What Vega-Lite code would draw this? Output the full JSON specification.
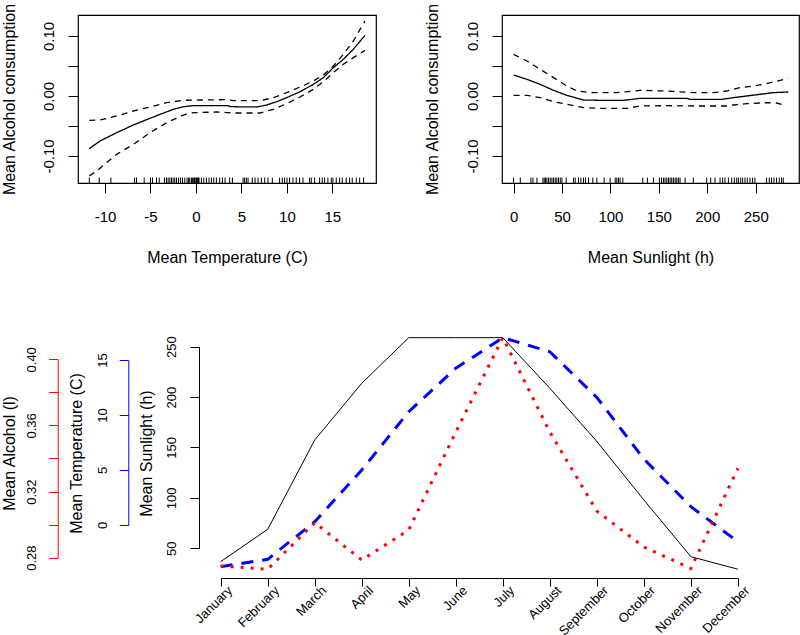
{
  "$schema": "https://vega.github.io/schema/vega-lite/v6.json",
  "background": "white",
  "padding": {"left": 1, "top": 2, "right": 0, "bottom": 20},
  "config": {
    "font": "Liberation Sans",
    "view": {"stroke": null},
    "axis": {"grid": false, "domainColor": "black", "tickColor": "black", "labelColor": "black", "titleColor": "black", "titleFontWeight": "normal", "labelFlush": false, "labelOverlap": false, "labelBound": false, "tickWidth": 1, "domainWidth": 1}
  },
  "datasets": {
    "trug": [{"t":-11.73},{"t":-10.63},{"t":-9.35},{"t":-6.75},{"t":-6.53},{"t":-5.69},{"t":-5.0},{"t":-4.78},{"t":-4.34},{"t":-4.04},{"t":-3.46},{"t":-3.24},{"t":-3.06},{"t":-2.87},{"t":-2.69},{"t":-2.51},{"t":-2.33},{"t":-2.14},{"t":-1.92},{"t":-1.7},{"t":-1.48},{"t":-1.23},{"t":-0.97},{"t":-0.8},{"t":-0.68},{"t":-0.5},{"t":-0.39},{"t":-0.24},{"t":-0.15},{"t":-0.09},{"t":0.05},{"t":0.12},{"t":0.2},{"t":0.27},{"t":0.34},{"t":0.6},{"t":0.86},{"t":1.15},{"t":1.44},{"t":1.7},{"t":1.96},{"t":2.25},{"t":2.61},{"t":2.91},{"t":3.2},{"t":3.71},{"t":4.01},{"t":5.18},{"t":5.36},{"t":5.54},{"t":5.73},{"t":6.2},{"t":6.5},{"t":6.83},{"t":7.19},{"t":7.56},{"t":7.92},{"t":8.4},{"t":9.2},{"t":9.5},{"t":9.75},{"t":10.01},{"t":10.3},{"t":10.67},{"t":11.03},{"t":11.4},{"t":11.77},{"t":12.5},{"t":12.68},{"t":13.05},{"t":13.6},{"t":13.89},{"t":14.15},{"t":14.51},{"t":14.88},{"t":15.06},{"t":15.43},{"t":15.8},{"t":16.09},{"t":16.53},{"t":16.9},{"t":17.19},{"t":17.63},{"t":18.0},{"t":18.44}],
    "tfit": [
      {"t":-11.73,"v":-0.0878,"band":"fit"},{"t":-10.55,"v":-0.075,"band":"fit"},{"t":-8.72,"v":-0.0611,"band":"fit"},{"t":-6.89,"v":-0.0483,"band":"fit"},{"t":-5.05,"v":-0.0372,"band":"fit"},{"t":-3.95,"v":-0.0306,"band":"fit"},{"t":-2.49,"v":-0.0222,"band":"fit"},{"t":-1.39,"v":-0.0178,"band":"fit"},{"t":-0.29,"v":-0.0161,"band":"fit"},{"t":1.18,"v":-0.0161,"band":"fit"},{"t":3.56,"v":-0.0161,"band":"fit"},{"t":3.75,"v":-0.0178,"band":"fit"},{"t":6.68,"v":-0.0183,"band":"fit"},{"t":7.78,"v":-0.015,"band":"fit"},{"t":8.88,"v":-0.0094,"band":"fit"},{"t":9.98,"v":-0.0028,"band":"fit"},{"t":11.45,"v":0.0072,"band":"fit"},{"t":12.91,"v":0.0194,"band":"fit"},{"t":14.01,"v":0.0306,"band":"fit"},{"t":15.11,"v":0.0472,"band":"fit"},{"t":16.21,"v":0.0611,"band":"fit"},{"t":17.31,"v":0.0778,"band":"fit"},{"t":18.59,"v":0.1011,"band":"fit"},
      {"t":-11.73,"v":-0.0406,"band":"hi"},{"t":-10.55,"v":-0.04,"band":"hi"},{"t":-8.72,"v":-0.0333,"band":"hi"},{"t":-6.89,"v":-0.025,"band":"hi"},{"t":-5.05,"v":-0.0183,"band":"hi"},{"t":-3.22,"v":-0.0111,"band":"hi"},{"t":-1.39,"v":-0.0072,"band":"hi"},{"t":0.45,"v":-0.0067,"band":"hi"},{"t":3.38,"v":-0.0061,"band":"hi"},{"t":4.11,"v":-0.0078,"band":"hi"},{"t":7.05,"v":-0.0078,"band":"hi"},{"t":8.51,"v":-0.0028,"band":"hi"},{"t":9.98,"v":0.0056,"band":"hi"},{"t":11.45,"v":0.015,"band":"hi"},{"t":12.91,"v":0.025,"band":"hi"},{"t":14.01,"v":0.035,"band":"hi"},{"t":15.11,"v":0.05,"band":"hi"},{"t":16.21,"v":0.0694,"band":"hi"},{"t":17.31,"v":0.0917,"band":"hi"},{"t":18.59,"v":0.125,"band":"hi"},
      {"t":-11.73,"v":-0.1333,"band":"lo"},{"t":-10.92,"v":-0.125,"band":"lo"},{"t":-9.82,"v":-0.1111,"band":"lo"},{"t":-8.72,"v":-0.0972,"band":"lo"},{"t":-6.89,"v":-0.0806,"band":"lo"},{"t":-5.05,"v":-0.0611,"band":"lo"},{"t":-3.22,"v":-0.0444,"band":"lo"},{"t":-1.39,"v":-0.0317,"band":"lo"},{"t":-0.29,"v":-0.0278,"band":"lo"},{"t":2.28,"v":-0.0267,"band":"lo"},{"t":4.11,"v":-0.0283,"band":"lo"},{"t":7.05,"v":-0.0283,"band":"lo"},{"t":8.51,"v":-0.0222,"band":"lo"},{"t":9.98,"v":-0.0128,"band":"lo"},{"t":11.45,"v":-0.0017,"band":"lo"},{"t":12.91,"v":0.0111,"band":"lo"},{"t":14.01,"v":0.0239,"band":"lo"},{"t":15.11,"v":0.0389,"band":"lo"},{"t":16.21,"v":0.0528,"band":"lo"},{"t":17.31,"v":0.0639,"band":"lo"},{"t":18.59,"v":0.0761,"band":"lo"}
    ],
    "srug": [{"s":0},{"s":6.9},{"s":17.9},{"s":20},{"s":24.1},{"s":30.3},{"s":31.6},{"s":33},{"s":34.4},{"s":36.1},{"s":37.8},{"s":39.6},{"s":41.3},{"s":43},{"s":44.7},{"s":46.4},{"s":48.2},{"s":49.9},{"s":54.3},{"s":61.9},{"s":63.6},{"s":67},{"s":69.5},{"s":72.2},{"s":74.3},{"s":77.4},{"s":81.8},{"s":86},{"s":93.5},{"s":99.7},{"s":104.9},{"s":106.6},{"s":108.3},{"s":110},{"s":112.8},{"s":133.4},{"s":138.2},{"s":144.4},{"s":150.6},{"s":152.7},{"s":154.7},{"s":156.4},{"s":158.2},{"s":159.9},{"s":161.6},{"s":163.3},{"s":165},{"s":166.8},{"s":168.5},{"s":170.2},{"s":171.9},{"s":177.1},{"s":185.6},{"s":199.4},{"s":203.5},{"s":208},{"s":213.2},{"s":215.9},{"s":218.3},{"s":221.8},{"s":225.2},{"s":227.9},{"s":230.4},{"s":232.1},{"s":234.5},{"s":236.5},{"s":238.9},{"s":241.3},{"s":244.1},{"s":246.8},{"s":249.2},{"s":261.2},{"s":264},{"s":266.4},{"s":268.8},{"s":271.5},{"s":274.3},{"s":276.7},{"s":278.4}],
    "sfit": [
      {"s":0,"v":0.035,"band":"fit"},{"s":13.8,"v":0.0278,"band":"fit"},{"s":27.5,"v":0.0194,"band":"fit"},{"s":41.3,"v":0.0094,"band":"fit"},{"s":55,"v":0.0011,"band":"fit"},{"s":72.2,"v":-0.0067,"band":"fit"},{"s":89.4,"v":-0.0072,"band":"fit"},{"s":113.4,"v":-0.0072,"band":"fit"},{"s":130.7,"v":-0.0039,"band":"fit"},{"s":158.2,"v":-0.0039,"band":"fit"},{"s":178.8,"v":-0.0039,"band":"fit"},{"s":182.2,"v":-0.0056,"band":"fit"},{"s":214.9,"v":-0.0056,"band":"fit"},{"s":226.9,"v":-0.0028,"band":"fit"},{"s":240.7,"v":0,"band":"fit"},{"s":254.4,"v":0.0028,"band":"fit"},{"s":268.2,"v":0.0056,"band":"fit"},{"s":283.6,"v":0.0067,"band":"fit"},
      {"s":0,"v":0.0694,"band":"hi"},{"s":13.8,"v":0.0583,"band":"hi"},{"s":27.5,"v":0.0444,"band":"hi"},{"s":41.3,"v":0.0306,"band":"hi"},{"s":55,"v":0.0167,"band":"hi"},{"s":65.4,"v":0.0083,"band":"hi"},{"s":79.1,"v":0.0056,"band":"hi"},{"s":106.6,"v":0.0056,"band":"hi"},{"s":130.7,"v":0.0094,"band":"hi"},{"s":158.2,"v":0.0083,"band":"hi"},{"s":185.6,"v":0.0056,"band":"hi"},{"s":206.3,"v":0.0056,"band":"hi"},{"s":220,"v":0.0083,"band":"hi"},{"s":233.8,"v":0.0139,"band":"hi"},{"s":247.5,"v":0.0167,"band":"hi"},{"s":261.3,"v":0.0206,"band":"hi"},{"s":283.6,"v":0.0294,"band":"hi"},
      {"s":0,"v":0.0011,"band":"lo"},{"s":13.8,"v":0.0011,"band":"lo"},{"s":27.5,"v":-0.0028,"band":"lo"},{"s":41.3,"v":-0.0094,"band":"lo"},{"s":55,"v":-0.0139,"band":"lo"},{"s":72.2,"v":-0.0194,"band":"lo"},{"s":89.4,"v":-0.0206,"band":"lo"},{"s":116.9,"v":-0.0206,"band":"lo"},{"s":130.7,"v":-0.0167,"band":"lo"},{"s":158.2,"v":-0.0161,"band":"lo"},{"s":185.6,"v":-0.0167,"band":"lo"},{"s":220,"v":-0.0167,"band":"lo"},{"s":226.9,"v":-0.015,"band":"lo"},{"s":240.7,"v":-0.0128,"band":"lo"},{"s":261.3,"v":-0.0111,"band":"lo"},{"s":271.6,"v":-0.0117,"band":"lo"},{"s":278.5,"v":-0.015,"band":"lo"}
    ],
    "mon": [
      {"m":1,"month":"January","sun":36.7,"temp":-3.79,"alc":0.275},
      {"m":2,"month":"February","sun":68.8,"temp":-3.12,"alc":0.273},
      {"m":3,"month":"March","sun":157.4,"temp":0.3,"alc":0.3012},
      {"m":4,"month":"April","sun":213.7,"temp":5.0,"alc":0.2786},
      {"m":5,"month":"May","sun":258.9,"temp":10.3,"alc":0.2968},
      {"m":6,"month":"June","sun":258.9,"temp":14.25,"alc":0.356},
      {"m":7,"month":"July","sun":258.9,"temp":17.03,"alc":0.4131},
      {"m":8,"month":"August","sun":208.7,"temp":15.75,"alc":0.356},
      {"m":9,"month":"September","sun":156,"temp":11.6,"alc":0.3082},
      {"m":10,"month":"October","sun":97.9,"temp":6.0,"alc":0.2865},
      {"m":11,"month":"November","sun":41.7,"temp":1.67,"alc":0.2735},
      {"m":12,"month":"December","sun":29.2,"temp":-1.52,"alc":0.3341}
    ]
  },
  "vconcat": [
    {
      "hconcat": [
        {
          "width": 298, "height": 168,
          "view": {"stroke": "black", "strokeWidth": 1.2},
          "encoding": {
            "x": {"field": "t", "type": "quantitative",
              "scale": {"domain": [-12.97, 19.8], "nice": false, "zero": false},
              "axis": {"title": "Mean Temperature (C)", "values": [-10, -5, 0, 5, 10, 15], "labelExpr": "replace(datum.label, '\u2212', '-')", "labelFontSize": 15, "labelBaseline": "alphabetic", "labelPadding": 28.7, "tickSize": 10, "domain": false, "titleFontSize": 16, "titleBaseline": "alphabetic", "titleAlign": "center", "titleX": 149, "titleY": 79}}
          },
          "layer": [
            {
              "data": {"name": "trug"},
              "mark": {"type": "rule", "color": "black", "strokeWidth": 1},
              "encoding": {
                "y": {"datum": -0.145, "type": "quantitative",
                  "scale": {"domain": [-0.145, 0.135], "nice": false, "zero": false},
                  "axis": {"title": "Mean Alcohol consumption", "values": [-0.1, -0.05, 0, 0.05, 0.1], "labelExpr": "datum.value == 0.1 ? '0.10' : datum.value == 0 ? '0.00' : datum.value == -0.1 ? '-0.10' : ''", "labelAngle": -90, "labelAlign": "center", "labelBaseline": "alphabetic", "labelFontSize": 15, "labelPadding": 14.7, "tickSize": 10, "domain": false, "titleFontSize": 16, "titleAngle": -90, "titleAlign": "center", "titleBaseline": "alphabetic", "titleX": -63.2, "titleY": 84}},
                "y2": {"datum": -0.136}
              }
            },
            {
              "data": {"name": "tfit"},
              "mark": {"type": "line", "color": "black", "strokeWidth": 1.3},
              "encoding": {
                "y": {"field": "v", "type": "quantitative",
                  "scale": {"domain": [-0.145, 0.135], "nice": false, "zero": false},
                  "axis": {"title": "Mean Alcohol consumption", "values": [-0.1, -0.05, 0, 0.05, 0.1], "labelExpr": "datum.value == 0.1 ? '0.10' : datum.value == 0 ? '0.00' : datum.value == -0.1 ? '-0.10' : ''", "labelAngle": -90, "labelAlign": "center", "labelBaseline": "alphabetic", "labelFontSize": 15, "labelPadding": 14.7, "tickSize": 10, "domain": false, "titleFontSize": 16, "titleAngle": -90, "titleAlign": "center", "titleBaseline": "alphabetic", "titleX": -63.2, "titleY": 84}},
                "strokeDash": {"field": "band", "type": "nominal", "scale": {"domain": ["fit", "hi", "lo"], "range": [[1, 0], [6, 5], [6, 5]]}, "legend": null}
              }
            }
          ]
        },
        {
          "width": 297, "height": 168,
          "view": {"stroke": "black", "strokeWidth": 1.2},
          "encoding": {
            "x": {"field": "s", "type": "quantitative",
              "scale": {"domain": [-11.96, 294.7], "nice": false, "zero": false},
              "axis": {"title": "Mean Sunlight (h)", "values": [0, 50, 100, 150, 200, 250], "labelFontSize": 15, "labelBaseline": "alphabetic", "labelPadding": 28.7, "tickSize": 10, "domain": false, "titleFontSize": 16, "titleBaseline": "alphabetic", "titleAlign": "center", "titleX": 148.5, "titleY": 79}}
          },
          "layer": [
            {
              "data": {"name": "srug"},
              "mark": {"type": "rule", "color": "black", "strokeWidth": 1},
              "encoding": {
                "y": {"datum": -0.145, "type": "quantitative",
                  "scale": {"domain": [-0.145, 0.135], "nice": false, "zero": false},
                  "axis": {"title": "Mean Alcohol consumption", "values": [-0.1, -0.05, 0, 0.05, 0.1], "labelExpr": "datum.value == 0.1 ? '0.10' : datum.value == 0 ? '0.00' : datum.value == -0.1 ? '-0.10' : ''", "labelAngle": -90, "labelAlign": "center", "labelBaseline": "alphabetic", "labelFontSize": 15, "labelPadding": 14.7, "tickSize": 10, "domain": false, "titleFontSize": 16, "titleAngle": -90, "titleAlign": "center", "titleBaseline": "alphabetic", "titleX": -65, "titleY": 84}},
                "y2": {"datum": -0.136}
              }
            },
            {
              "data": {"name": "sfit"},
              "mark": {"type": "line", "color": "black", "strokeWidth": 1.3},
              "encoding": {
                "y": {"field": "v", "type": "quantitative",
                  "scale": {"domain": [-0.145, 0.135], "nice": false, "zero": false},
                  "axis": {"title": "Mean Alcohol consumption", "values": [-0.1, -0.05, 0, 0.05, 0.1], "labelExpr": "datum.value == 0.1 ? '0.10' : datum.value == 0 ? '0.00' : datum.value == -0.1 ? '-0.10' : ''", "labelAngle": -90, "labelAlign": "center", "labelBaseline": "alphabetic", "labelFontSize": 15, "labelPadding": 14.7, "tickSize": 10, "domain": false, "titleFontSize": 16, "titleAngle": -90, "titleAlign": "center", "titleBaseline": "alphabetic", "titleX": -65, "titleY": 84}},
                "strokeDash": {"field": "band", "type": "nominal", "scale": {"domain": ["fit", "hi", "lo"], "range": [[1, 0], [6, 5], [6, 5]]}, "legend": null}
              }
            }
          ]
        }
      ],
      "spacing": 126,
      "bounds": "flush"
    },
    {
      "width": 681, "height": 250,
      "data": {"name": "mon"},
      "encoding": {
        "x": {"field": "m", "type": "quantitative",
          "scale": {"domain": [-2.035, 12.449], "nice": false, "zero": false},
          "axis": {"title": null, "values": [1, 2, 3, 4, 5, 6, 7, 8, 9, 10, 11, 12], "labelExpr": "['January','February','March','April','May','June','July','August','September','October','November','December'][datum.value - 1]", "labelAngle": -45, "labelAlign": "right", "labelBaseline": "middle", "labelFontSize": 13, "labelPadding": 2, "labelOffset": 9, "tickSize": 8, "domainDash": [0, 142.7, 517.2, 3000]}}
      },
      "layer": [
        {
          "mark": {"type": "line", "color": "black", "strokeWidth": 1},
          "encoding": {
            "y": {"field": "sun", "type": "quantitative",
              "scale": {"domain": [20.5, 268.5], "nice": false, "zero": false},
              "axis": {"orient": "left", "offset": -121, "title": "Mean Sunlight (h)", "values": [50, 100, 150, 200, 250], "labelAngle": -90, "labelAlign": "center", "labelBaseline": "alphabetic", "labelFontSize": 13, "labelPadding": 15, "tickSize": 9, "domainDash": [0, 29.7, 201.6, 3000], "titleFontSize": 16, "titleAngle": -90, "titleAlign": "center", "titleBaseline": "alphabetic", "titleX": -47.5, "titleY": 125}}
          }
        },
        {
          "mark": {"type": "line", "color": "#0000FF", "strokeWidth": 3, "strokeDash": [12, 9]},
          "encoding": {
            "y": {"field": "temp", "type": "quantitative",
              "scale": {"domain": [-4.818, 17.909], "nice": false, "zero": false},
              "axis": {"orient": "left", "offset": -50.3, "title": "Mean Temperature (C)", "values": [0, 5, 10, 15], "labelAngle": -90, "labelAlign": "center", "labelBaseline": "alphabetic", "labelFontSize": 13, "labelPadding": 12.6, "tickSize": 9, "domainColor": "#0000FF", "tickColor": "#0000FF", "domainDash": [0, 53, 165, 3000], "titleFontSize": 16, "titleAngle": -90, "titleAlign": "center", "titleBaseline": "alphabetic", "titleX": -46.8, "titleY": 125}}
          }
        },
        {
          "mark": {"type": "line", "color": "#FF0000", "strokeWidth": 3, "strokeDash": [3, 7]},
          "encoding": {
            "y": {"field": "alc", "type": "quantitative",
              "scale": {"domain": [0.26772, 0.41893], "nice": false, "zero": false},
              "axis": {"orient": "left", "offset": 20.3, "title": "Mean Alcohol (l)", "values": [0.28, 0.3, 0.32, 0.34, 0.36, 0.38, 0.4], "labelExpr": "datum.value == 0.28 ? '0.28' : datum.value == 0.32 ? '0.32' : datum.value == 0.36 ? '0.36' : datum.value == 0.4 ? '0.40' : ''", "labelAngle": -90, "labelAlign": "center", "labelBaseline": "alphabetic", "labelFontSize": 13, "labelPadding": 13.7, "tickSize": 9, "domainColor": "#FF0000", "tickColor": "#FF0000", "domainDash": [0, 20.3, 198.4, 3000], "titleFontSize": 16, "titleAngle": -90, "titleAlign": "center", "titleBaseline": "alphabetic", "titleX": -43.5, "titleY": 125}}
          }
        }
      ],
      "resolve": {"scale": {"y": "independent"}, "axis": {"y": "independent"}}
    }
  ],
  "spacing": 62
}
